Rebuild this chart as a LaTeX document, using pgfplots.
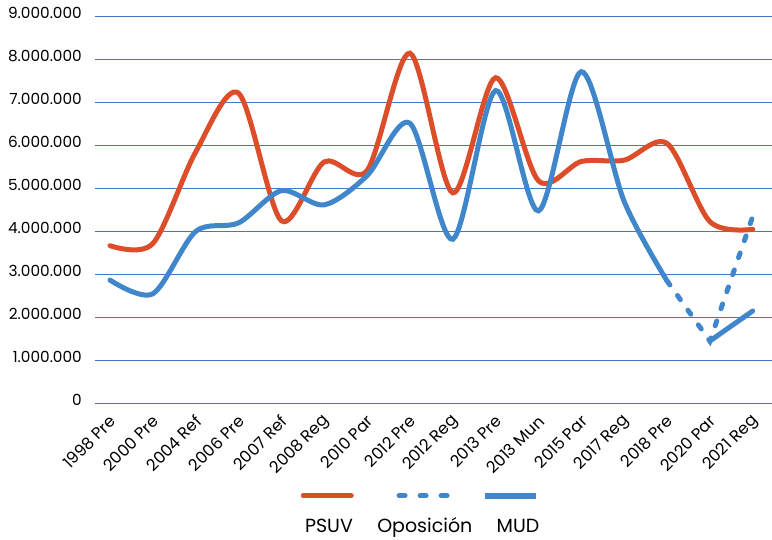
\documentclass[border=0pt]{standalone}
\usepackage{pgfplots}
\pgfplotsset{compat=1.18}
\usepackage{fontspec}
\setmainfont{Poppins}
\definecolor{psuv}{RGB}{220,78,42}
\definecolor{mud}{RGB}{64,134,202}
\definecolor{gridc}{RGB}{68,120,196}
\newcommand\tickfont{\fontsize{15.3}{18}\selectfont}
\newcommand\xtickfont{\fontsize{16.3}{18}\selectfont}
\newcommand\legfont{\fontsize{19}{22}\selectfont}
\begin{document}
\begin{tikzpicture}
\path[use as bounding box] (-95pt,-135.7pt) rectangle (677pt,403.3pt);
\begin{axis}[
  at={(0pt,0pt)}, anchor=south west,
  scale only axis, width=677pt, height=386.6pt,
  xmin=-0.35, xmax=15.45, ymin=0, ymax=9000000,
  axis line style={draw=none},
  tick style={draw=none},
  ymajorgrids,
  major grid style={gridc, line width=1pt},
  ytick={0,1000000,2000000,3000000,4000000,5000000,6000000,7000000,8000000,9000000},
  scaled y ticks=false,
  yticklabel style={font=\tickfont, anchor=east, inner sep=0pt, xshift=-13pt, yshift=3.5pt,
    /pgf/number format/.cd, fixed, precision=0, 1000 sep={.}, assume math mode=true},
  xtick={0,...,15},
  xticklabels={1998 Pre,2000 Pre,2004 Ref,2006 Pre,2007 Ref,2008 Reg,2010 Par,2012 Pre,2012 Reg,2013 Pre,2013 Mun,2015 Par,2017 Reg,2018 Pre,2020 Par,2021 Reg},
  xticklabel style={font=\xtickfont, inner sep=0pt, xshift=3pt, yshift=-15pt, rotate=45, anchor=east},
  clip=false,
  legend columns=3,
  legend style={at={(0.483,-0.317)}, anchor=center, draw=none, fill=none,
    font=\legfont, cells={anchor=base},
    /tikz/every odd column/.append style={column sep=0pt},
    /tikz/every even column/.append style={column sep=20pt},
    nodes={inner sep=2pt}},
]
% legend entries
\addlegendimage{legend image code/.code={\path (0,0); \legfont
   \pgfmathsetmacro\tw{width("PSUV")}
   \draw[overlay, psuv, line width=5pt, line cap=round] ({\tw*0.5pt+2pt-1.5pt-24pt},37pt) -- ++(48pt,0);}}
\addlegendentry{PSUV}
\addlegendimage{legend image code/.code={\path (0,0); \legfont
   \pgfmathsetmacro\tw{width("Oposición")}
   \draw[overlay, mud, line width=5pt, line cap=round, dash pattern=on 6pt off 15pt] ({\tw*0.5pt+2pt-1.5pt-24pt},37pt) -- ++(48pt,0);}}
\addlegendentry{Oposición}
\addlegendimage{legend image code/.code={\path (0,0); \legfont
   \pgfmathsetmacro\tw{width("MUD")}
   \draw[overlay, mud, line width=6pt] ({\tw*0.5pt+2pt-7pt-25.5pt},37pt) -- ++(51pt,0);}}
\addlegendentry{MUD}

% PSUV
\addplot[psuv, line width=5pt, smooth, line cap=round, forget plot] coordinates {
 (0,3670000) (1,3720000) (2,5850000) (3,7220000) (4,4250000) (5,5620000)
 (6,5420000) (7,8150000) (8,4900000) (9,7580000) (10,5180000) (11,5630000)
 (12,5660000) (13,6050000) (14,4230000) (15,4050000)};
% MUD
\addplot[mud, line width=5pt, smooth, line cap=round, forget plot] coordinates {
 (0,2870000) (1,2550000) (2,4000000) (3,4200000) (4,4950000) (5,4620000)
 (6,5300000) (7,6520000) (8,3820000) (9,7280000) (10,4480000) (11,7720000)
 (12,4700000) (13,2850000)};
% Oposicion (dashed)
\addplot[mud, line width=5pt, line cap=round, dash pattern=on 5pt off 13pt, forget plot] coordinates {
 (13,2850000) (14,1450000) (15,4350000)};
% MUD 2020-2021
\addplot[mud, line width=5pt, line cap=round, forget plot] coordinates {
 (14,1450000) (15,2150000)};
\end{axis}
\end{tikzpicture}
\end{document}
